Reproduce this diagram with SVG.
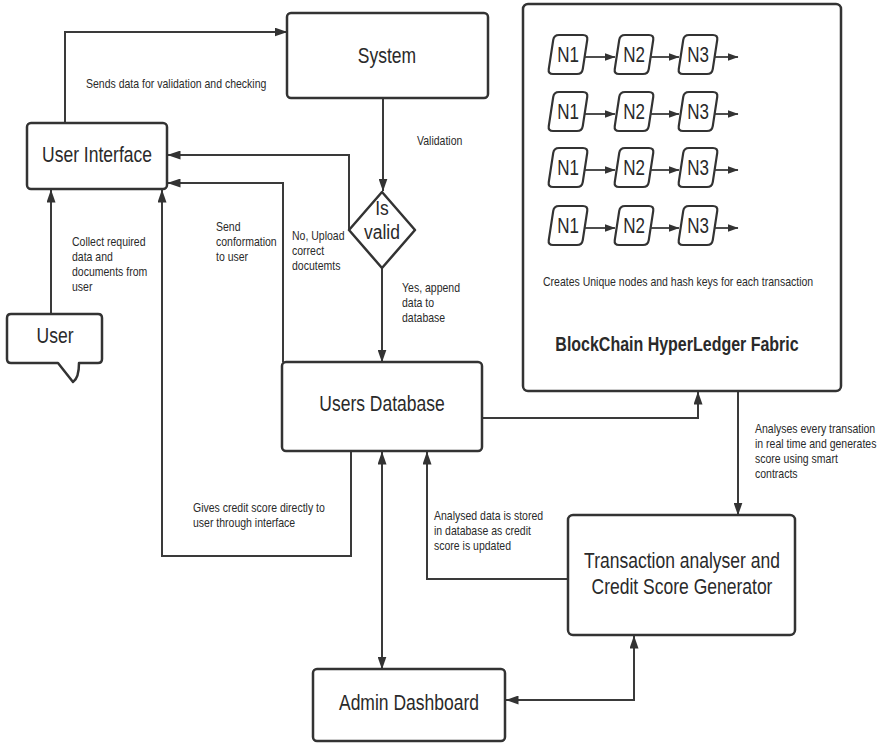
<svg xmlns="http://www.w3.org/2000/svg" width="882" height="744" viewBox="0 0 882 744">
  <style>
    .box { fill: #fff; stroke: #333; stroke-width: 2.5; }
    .blk { fill: #fff; stroke: #333; stroke-width: 2.2; }
    .wire { fill: none; stroke: #3a3a3a; stroke-width: 2; }
    .chain { fill: none; stroke: #3a3a3a; stroke-width: 1.8; }
    text { font-family: "Liberation Sans", Arial, sans-serif; fill: #2a2a2a; }
    .big { font-size: 17.5px; }
    .nd { font-size: 17px; }
    .sm { font-size: 10.5px; }
    .bold { font-size: 16px; font-weight: bold; }
  </style>
  <defs>
    <marker id="arr" viewBox="0 0 13 9" refX="12.5" refY="4.5" markerWidth="13" markerHeight="9" markerUnits="userSpaceOnUse" orient="auto-start-reverse">
      <path d="M0,0 L13,4.5 L0,9 Z" fill="#333"/>
    </marker>
    <marker id="arrS" viewBox="0 0 11 8" refX="10.5" refY="4" markerWidth="11" markerHeight="8" markerUnits="userSpaceOnUse" orient="auto">
      <path d="M0,0 L11,4 L0,8 Z" fill="#333"/>
    </marker>
    <!-- rounded slanted block used for the ledger chain -->
    <path id="cell" d="M11,0 L35,0 Q40,0 39.24,4.94 L34.76,34.06 Q34,39 29,39 L5,39 Q0,39 0.76,34.06 L5.24,4.94 Q6,0 11,0 Z"/>
  </defs>

  <!-- connectors -->
  <g id="connectors">
    <path class="wire" d="M65,123 V32 H287" marker-end="url(#arr)"/>
    <path class="wire" d="M383,98 V191" marker-end="url(#arr)"/>
    <path class="wire" d="M349,230 V155 H168" marker-end="url(#arr)"/>
    <path class="wire" d="M283,362 V183 H168" marker-end="url(#arr)"/>
    <path class="wire" d="M382,268 V362" marker-end="url(#arr)"/>
    <path class="wire" d="M51,315 V190" marker-end="url(#arr)"/>
    <path class="wire" d="M351,451 V556 H162 V190" marker-end="url(#arr)"/>
    <path class="wire" d="M382,452 V669" marker-start="url(#arr)" marker-end="url(#arr)"/>
    <path class="wire" d="M568,579 H427 V452" marker-end="url(#arr)"/>
    <path class="wire" d="M482,418 H698 V392" marker-end="url(#arr)"/>
    <path class="wire" d="M738,391 V515" marker-end="url(#arr)"/>
    <path class="wire" d="M634,636 V700 H506" marker-start="url(#arr)" marker-end="url(#arr)"/>
  </g>

  <!-- connector labels -->
  <g id="labels">
    <text class="sm" transform="translate(86 88) scale(1 1.27)">Sends data for validation and checking</text>
    <text class="sm" transform="translate(417 145) scale(1 1.27)">Validation</text>
    <text class="sm" transform="translate(72 246) scale(1 1.27)"><tspan x="0">Collect required</tspan><tspan x="0" dy="11.8">data and</tspan><tspan x="0" dy="11.8">documents from</tspan><tspan x="0" dy="11.8">user</tspan></text>
    <text class="sm" transform="translate(216 231) scale(1 1.27)"><tspan x="0">Send</tspan><tspan x="0" dy="11.8">conformation</tspan><tspan x="0" dy="11.8">to user</tspan></text>
    <text class="sm" transform="translate(292 240) scale(1 1.27)"><tspan x="0">No, Upload</tspan><tspan x="0" dy="11.8">correct</tspan><tspan x="0" dy="11.8">docutemts</tspan></text>
    <text class="sm" transform="translate(402 292) scale(1 1.27)"><tspan x="0">Yes, append</tspan><tspan x="0" dy="11.8">data to</tspan><tspan x="0" dy="11.8">database</tspan></text>
    <text class="sm" transform="translate(755 433) scale(1 1.27)"><tspan x="0">Analyses every transation</tspan><tspan x="0" dy="11.8">in real time and generates</tspan><tspan x="0" dy="11.8">score using smart</tspan><tspan x="0" dy="11.8">contracts</tspan></text>
    <text class="sm" transform="translate(193 512) scale(1 1.27)"><tspan x="0">Gives credit score directly to</tspan><tspan x="0" dy="11.8">user through interface</tspan></text>
    <text class="sm" transform="translate(434 520) scale(1 1.27)"><tspan x="0">Analysed data is stored</tspan><tspan x="0" dy="11.8">in database as credit</tspan><tspan x="0" dy="11.8">score is updated</tspan></text>
  </g>

  <g id="user-interface">
    <rect class="box" x="27" y="123" width="140" height="66" rx="4"/>
    <text class="big" text-anchor="middle" transform="translate(97 162) scale(1 1.27)">User Interface</text>
  </g>

  <g id="system">
    <rect class="box" x="287" y="13" width="201" height="85" rx="4"/>
    <text class="big" text-anchor="middle" transform="translate(387 63) scale(1 1.27)">System</text>
  </g>

  <g id="is-valid">
    <path class="box" d="M382,192 L415,230 L382,268 L349,230 Z" stroke-linejoin="round"/>
    <text class="big" text-anchor="middle" transform="translate(382 215) scale(1 1.12)">Is</text>
    <text class="big" text-anchor="middle" transform="translate(382 239) scale(1 1.15)">valid</text>
  </g>

  <g id="user">
    <path class="box" d="M11,314 H98 Q102,314 102,318 V359 Q102,363 98,363 H79 Q79,378 73,382 L58,363 H11 Q7,363 7,359 V318 Q7,314 11,314 Z" stroke-linejoin="round"/>
    <text class="big" text-anchor="middle" transform="translate(55 343) scale(1 1.27)">User</text>
  </g>

  <g id="users-database">
    <rect class="box" x="282" y="362" width="200" height="89" rx="4"/>
    <text class="big" text-anchor="middle" transform="translate(382 411) scale(1 1.27)">Users Database</text>
  </g>

  <g id="blockchain">
    <rect class="box" x="523" y="4" width="318" height="387" rx="5"/>
    <g id="chain-rows">
      <g transform="translate(0 35)">
        <use href="#cell" class="blk" x="548"/><use href="#cell" class="blk" x="614"/><use href="#cell" class="blk" x="678"/>
        <path class="chain" d="M585,22 H615" marker-end="url(#arrS)"/>
        <path class="chain" d="M650,22 H679" marker-end="url(#arrS)"/>
        <path class="chain" d="M714,22 H738" marker-end="url(#arrS)"/>
        <text class="nd" text-anchor="middle" transform="translate(568 27) scale(1 1.27)">N1</text>
        <text class="nd" text-anchor="middle" transform="translate(634 27) scale(1 1.27)">N2</text>
        <text class="nd" text-anchor="middle" transform="translate(698 27) scale(1 1.27)">N3</text>
      </g>
      <g transform="translate(0 92)">
        <use href="#cell" class="blk" x="548"/><use href="#cell" class="blk" x="614"/><use href="#cell" class="blk" x="678"/>
        <path class="chain" d="M585,22 H615" marker-end="url(#arrS)"/>
        <path class="chain" d="M650,22 H679" marker-end="url(#arrS)"/>
        <path class="chain" d="M714,22 H738" marker-end="url(#arrS)"/>
        <text class="nd" text-anchor="middle" transform="translate(568 27) scale(1 1.27)">N1</text>
        <text class="nd" text-anchor="middle" transform="translate(634 27) scale(1 1.27)">N2</text>
        <text class="nd" text-anchor="middle" transform="translate(698 27) scale(1 1.27)">N3</text>
      </g>
      <g transform="translate(0 148)">
        <use href="#cell" class="blk" x="548"/><use href="#cell" class="blk" x="614"/><use href="#cell" class="blk" x="678"/>
        <path class="chain" d="M585,22 H615" marker-end="url(#arrS)"/>
        <path class="chain" d="M650,22 H679" marker-end="url(#arrS)"/>
        <path class="chain" d="M714,22 H738" marker-end="url(#arrS)"/>
        <text class="nd" text-anchor="middle" transform="translate(568 27) scale(1 1.27)">N1</text>
        <text class="nd" text-anchor="middle" transform="translate(634 27) scale(1 1.27)">N2</text>
        <text class="nd" text-anchor="middle" transform="translate(698 27) scale(1 1.27)">N3</text>
      </g>
      <g transform="translate(0 206)">
        <use href="#cell" class="blk" x="548"/><use href="#cell" class="blk" x="614"/><use href="#cell" class="blk" x="678"/>
        <path class="chain" d="M585,22 H615" marker-end="url(#arrS)"/>
        <path class="chain" d="M650,22 H679" marker-end="url(#arrS)"/>
        <path class="chain" d="M714,22 H738" marker-end="url(#arrS)"/>
        <text class="nd" text-anchor="middle" transform="translate(568 27) scale(1 1.27)">N1</text>
        <text class="nd" text-anchor="middle" transform="translate(634 27) scale(1 1.27)">N2</text>
        <text class="nd" text-anchor="middle" transform="translate(698 27) scale(1 1.27)">N3</text>
      </g>
    </g>
    <text class="sm" transform="translate(543 286) scale(1 1.27)">Creates Unique nodes and hash keys for each transaction</text>
    <text class="bold" text-anchor="middle" transform="translate(677 351) scale(1 1.27)">BlockChain HyperLedger Fabric</text>
  </g>

  <g id="credit-score-generator">
    <rect class="box" x="568" y="515" width="227" height="120" rx="5"/>
    <text class="big" text-anchor="middle" transform="translate(682 568) scale(1 1.27)">Transaction analyser and</text>
    <text class="big" text-anchor="middle" transform="translate(682 594) scale(1 1.27)">Credit Score Generator</text>
  </g>

  <g id="admin-dashboard">
    <rect class="box" x="313" y="669" width="192" height="72" rx="4"/>
    <text class="big" text-anchor="middle" transform="translate(409 710) scale(1 1.27)">Admin Dashboard</text>
  </g>
</svg>
